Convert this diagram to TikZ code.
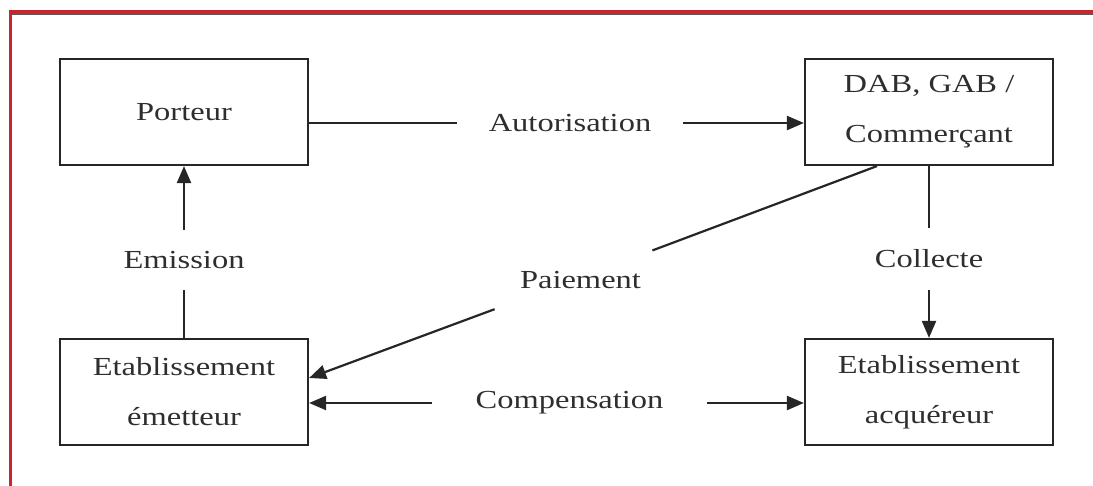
\documentclass[tikz,border=0pt]{standalone}
\usepackage{fontspec}
\setmainfont{Liberation Serif}[FakeStretch=1.25]
\usetikzlibrary{arrows.meta}
\definecolor{ink}{HTML}{262626}
\definecolor{txt}{HTML}{2E2E2E}
\definecolor{framered}{HTML}{C8262E}
\begin{document}
\begin{tikzpicture}[x=0.5pt,y=-0.5pt,
 box/.style={draw=ink,line width=1.1pt,minimum width=124pt,minimum height=53pt,inner sep=0pt,align=center,text=txt,font=\fontsize{13pt}{25pt}\selectfont},
 lbl/.style={inner sep=0pt,text=txt,font=\fontsize{13pt}{16pt}\selectfont},
 conn/.style={draw=ink,line width=1.1pt},
 arr/.style={conn,-{Triangle[length=8.5pt,width=7pt]}}]
\useasboundingbox (0,0) rectangle (1093,486);
% frame
\draw[framered,line width=1.2pt] (10.5,486) -- (10.5,11.5) -- (1093,11.5);
\draw[black!65,line width=0.8pt] (12,14) -- (1093,14);
% boxes
\node[box] (porteur) at (184,112) {Porteur};
\node[box] (dab) at (929,112) {DAB, GAB /\\Commerçant};
\node[box] (emet) at (184,392) {Etablissement\\émetteur};
\node[box] (acq) at (929,392) {Etablissement\\acquéreur};
% labels
\node[lbl,minimum width=112.5pt] (auto) at (570,123) {Autorisation};
\node[lbl,minimum width=137.5pt] (comp) at (569.5,403) {Compensation};
\node[lbl,minimum height=30pt] (emis) at (184,260) {Emission};
\node[lbl,minimum height=31pt] (coll) at (929,259) {Collecte};
\node[lbl,minimum width=78.5pt,minimum height=34pt] (paie) at (573.5,280) {\hspace*{7pt}Paiement};
% connectors
\draw[conn] (porteur.east |- auto) -- (auto);
\draw[arr] (auto) -- (auto -| dab.west);
\draw[conn] (emet) -- (emis);
\draw[arr] (emis) -- (porteur);
\draw[conn] (dab) -- (coll);
\draw[arr] (coll) -- (acq);
\draw[arr] (comp) -- (comp -| emet.east);
\draw[arr] (comp) -- (comp -| acq.west);
\draw[conn] ([xshift=-26pt]dab.south) -- (paie);
\draw[arr] (paie) -- ([yshift=7pt]emet.east);
\end{tikzpicture}
\end{document}
